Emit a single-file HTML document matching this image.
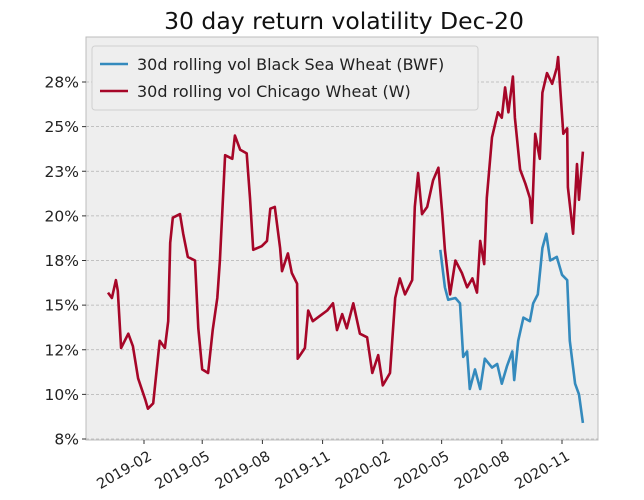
<!DOCTYPE html>
<html><head><meta charset="utf-8"><style>
body{margin:0;background:#fff;}
svg{display:block;font-family:"DejaVu Sans","Liberation Sans",sans-serif;}
</style></head><body>
<svg id="chart" width="644" height="500">
  <rect x="0" y="0" width="644" height="500" fill="#fff"/>
  <text x="344" y="29" font-size="23.5" text-anchor="middle" fill="#111">30 day return volatility Dec-20</text>
  <rect x="86" y="37" width="512" height="403" fill="#eeeeee" stroke="#bcbcbc" stroke-width="1"/>
  <g id="grid"></g>
  <g id="yaxis"></g>
  <g id="xaxis"></g>
  <g id="series"></g>
  <g>
    <rect x="92" y="46" width="386" height="64" rx="3" fill="#eeeeee" stroke="#d0d0d0"/>
    <line x1="100" y1="64" x2="128" y2="64" stroke="#348ABD" stroke-width="2.5"/>
    <text x="137" y="70" font-size="16" fill="#222">30d rolling vol Black Sea Wheat (BWF)</text>
    <line x1="100" y1="91" x2="128" y2="91" stroke="#A60628" stroke-width="2.5"/>
    <text x="137" y="97" font-size="16" fill="#222">30d rolling vol Chicago Wheat (W)</text>
  </g>
</svg>
<script>
// days since 2019-02-01, values in %
const chiDays=[-55,-49,-43,-40,-35,-24,-17,-9,2,6,14,24,32,37,40,44,55,60,67,78,83,89,98,105,112,116,124,135,139,147,157,162,167,180,188,193,200,208,211,220,226,234,235,246,251,258,269,280,289,295,303,310,320,330,341,349,358,365,376,384,391,399,410,414,419,425,433,442,450,456,460,468,476,486,494,502,509,514,520,524,532,541,547,552,557,564,567,575,583,590,593,598,605,609,616,624,631,633,641,647,648,656,662,665,671];
const chiVals=[15.7,15.4,16.4,15.8,12.6,13.4,12.7,10.9,9.7,9.2,9.5,13.0,12.6,14.1,18.5,19.9,20.1,19.0,17.7,17.5,13.7,11.4,11.2,13.6,15.4,17.5,23.4,23.2,24.5,23.7,23.5,21.0,18.1,18.3,18.6,20.4,20.5,18.2,16.9,17.9,16.8,16.2,12.0,12.6,14.7,14.1,14.4,14.7,15.1,13.6,14.5,13.7,15.1,13.4,13.2,11.2,12.2,10.5,11.2,15.4,16.5,15.6,16.4,20.5,22.4,20.1,20.5,22.0,22.7,20.1,18.1,15.6,17.5,16.8,16.0,16.5,15.7,18.6,17.3,21.0,24.4,25.8,25.5,27.2,25.8,27.8,25.5,22.6,21.8,21.0,19.6,24.6,23.2,26.9,28.0,27.4,28.3,28.9,24.6,24.9,21.6,19.0,22.9,20.9,23.6];
const bwfDays=[453,460,465,476,483,488,494,498,506,514,521,532,540,547,555,563,566,572,580,590,595,602,609,615,621,631,639,647,651,659,665,671];
const bwfVals=[18.1,16.0,15.3,15.4,15.1,12.1,12.4,10.3,11.4,10.3,12.0,11.5,11.7,10.6,11.6,12.4,10.8,13.0,14.3,14.1,15.1,15.6,18.2,19.0,17.5,17.7,16.7,16.4,13.0,10.6,10.0,8.4];
const yTicks=[7.5,10,12.5,15,17.5,20,22.5,25,27.5];
const yTickLabels=["8%","10%","12%","15%","18%","20%","23%","25%","28%"];
const xTickDays=[0,89,181,273,365,455,547,639];
const xTickLabels=["2019-02","2019-05","2019-08","2019-11","2020-02","2020-05","2020-08","2020-11"];

const NS="http://www.w3.org/2000/svg";
const xs=d=>144+d*(562-144)/639;
const ys=v=>439-(v-7.5)*(439-82)/20;
function mk(tag,attrs,parent){const e=document.createElementNS(NS,tag);for(const k in attrs)e.setAttribute(k,attrs[k]);parent.appendChild(e);return e;}
const grid=document.getElementById('grid'),ya=document.getElementById('yaxis'),xa=document.getElementById('xaxis'),sg=document.getElementById('series');
yTicks.forEach((v,i)=>{
  const y=ys(v);
  const g=mk('line',{x1:86,x2:598,y1:y,y2:y,stroke:'#b2b2b2','stroke-dasharray':'3,2','stroke-width':0.8},grid);
  
  
  const t=mk('line',{x1:82,x2:86,y1:y,y2:y,stroke:'#333','stroke-width':1},ya);
  
  
  const l=mk('text',{x:79,y:y+5.5,'font-size':15.5,'text-anchor':'end',fill:'#222'},ya);
  l.textContent=yTickLabels[i];
  
  
});
xTickDays.forEach((d,i)=>{
  const x=xs(d);
  const t=mk('line',{x1:x,x2:x,y1:440,y2:444,stroke:'#333','stroke-width':1},xa);
  
  
  const l=mk('text',{x:x+3,y:449,'font-size':14.5,'text-anchor':'end',fill:'#222',transform:`rotate(-30 ${x+3} 449)`,dy:'0.8em'},xa);
  l.textContent=xTickLabels[i];
  
  
});
function line(days,vals,color,name){
  const pts=days.map((d,i)=>xs(d).toFixed(1)+','+ys(vals[i]).toFixed(1)).join(' ');
  const p=mk('polyline',{points:pts,fill:'none',stroke:color,'stroke-width':2.6,'stroke-linejoin':'round'},sg);
  
  
}
line(chiDays,chiVals,'#A60628','chicago-wheat-line');
line(bwfDays,bwfVals,'#348ABD','black-sea-wheat-line');
</script>
</body></html>
